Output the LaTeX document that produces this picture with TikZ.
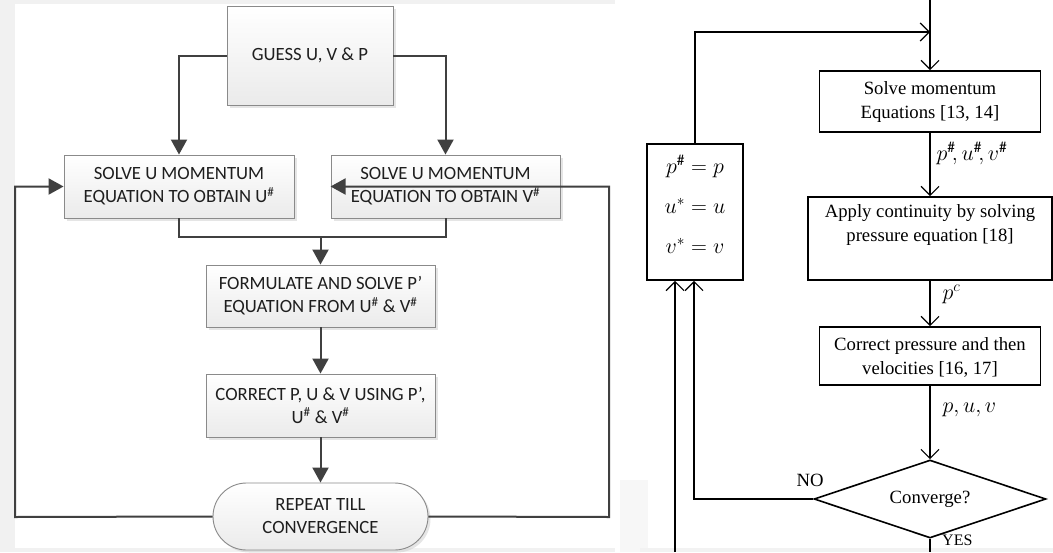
\documentclass[tikz,border=0pt]{standalone}
\usepackage{fix-cm}
\usepackage{fontspec}
\setmainfont{Carlito}
\newfontfamily\tnr{Liberation Serif}
\usetikzlibrary{arrows.meta,shapes.geometric,shapes.misc,shadows}
\definecolor{lcol}{HTML}{404040}
\definecolor{boxgray}{HTML}{8A8A8A}
\definecolor{txt}{HTML}{1E1E1E}
\definecolor{bggray}{HTML}{F1F1F1}
\newcommand\lefttxt{\fontsize{18.7}{23}\selectfont}
\newcommand\righttxt{\tnr\fontsize{18.7}{23.5}\selectfont}
\newcommand\mathtxt{\fontsize{22}{26}\selectfont}
\begin{document}
\begin{tikzpicture}[x=1pt,y=-1pt,
  lbox/.style={draw=boxgray, line width=0.9pt, top color=white, bottom color=black!8,
    drop shadow={shadow xshift=2.5pt, shadow yshift=-2.5pt, fill=black!20, opacity=0.5},
    align=center, font=\lefttxt, text=txt, inner sep=0pt},
  larr/.style={draw=lcol, line width=2pt, -{Triangle[length=15pt,width=16pt]}},
  lline/.style={draw=lcol, line width=2pt},
  rbox/.style={draw=black, line width=1.6pt, fill=white, inner sep=0pt},
  rtext/.style={font=\righttxt, align=center, text=black, inner sep=0pt},
  mtext/.style={font=\mathtxt, align=center, text=black, inner sep=0pt},
  rarr/.style={draw=black, line width=1.2pt, -{Straight Barb[length=9pt,width=18pt,line width=1.2pt]}},
  rline/.style={draw=black, line width=1.2pt}]
\useasboundingbox (0,0) rectangle (1053,552);
\fill[white] (0,0) rectangle (1053,552);
\fill[bggray] (0,0) rectangle (15,552);
\fill[bggray] (0,0) rectangle (615,4);
\fill[bggray] (0,548) rectangle (615,552);

% ---------------- left flowchart ----------------
\node[lbox, minimum width=166pt, minimum height=99pt] (guess) at (310,55.5) {GUESS U, V \& P};
\node[lbox, minimum width=230pt, minimum height=63pt] (solveu) at (179,186.5) {SOLVE U MOMENTUM\\EQUATION TO OBTAIN U\textsuperscript{\#}};
\node[lbox, minimum width=229pt, minimum height=63pt] (solvev) at (445.5,186.5) {SOLVE U MOMENTUM\\EQUATION TO OBTAIN V\textsuperscript{\#}};
\node[lbox, minimum width=229pt, minimum height=62pt] (form) at (320.5,296) {FORMULATE AND SOLVE P’\\EQUATION FROM U\textsuperscript{\#} \& V\textsuperscript{\#}};
\node[lbox, minimum width=229pt, minimum height=63pt] (corr) at (320.5,405.5) {CORRECT P, U \& V USING P’,\\U\textsuperscript{\#} \& V\textsuperscript{\#}};
\node[lbox, rounded rectangle, minimum width=215pt, minimum height=67pt] (rep) at (320.5,516.5) {REPEAT TILL\\CONVERGENCE};

\coordinate (merge) at (320.5,237);
\coordinate (lc) at (15,517);
\coordinate (rc) at (609,517);

\draw[larr] (guess.west) -| (solveu.north);
\draw[larr] (guess.east) -| (solvev.north);
\draw[lline] (solveu.south) |- (merge) -| (solvev.south);
\draw[larr] (merge) -- (form.north);
\draw[larr] (form.south) -- (corr.north);
\draw[larr] (corr.south) -- (rep.north);
\draw[larr] (rep.west) -- (lc) |- (solveu.west);
\draw[larr] (rep.east) -- (rc) |- (solvev.west);

% ---------------- right flowchart ----------------
\fill[black!3] (620,480) rectangle (648,552);
\fill[black!5] (640,548) rectangle (1053,552);
\node[rbox, minimum width=221pt, minimum height=61pt] (mom) at (930,101.5) {};
\node[rtext] (momt) at (930,102) {Solve momentum\\Equations [13, 14]};
\node[rbox, minimum width=244pt, minimum height=83pt] (apply) at (930,238.5) {};
\node[rtext] (applyt) at (930,225) {Apply continuity by solving\\pressure equation [18]};
\node[rbox, minimum width=221pt, minimum height=58pt] (cor2) at (930,356) {};
\node[rtext] (cor2t) at (930,357.5) {Correct pressure and then\\velocities [16, 17]};
\node[rbox, diamond, aspect=2.97, minimum width=232pt, minimum height=78pt] (dia) at (930,499) {};
\node[rtext] (diat) at (930,499) {Converge?};
\node[rbox, minimum width=96pt, minimum height=136pt] (eqbox) at (695,212) {};
\node[mtext] (eq1) at (695,166) {$p^{\#}=p$};
\node[mtext] (eq2) at (695,206) {$u^{*}=u$};
\node[mtext] (eq3) at (695,246) {$v^{*}=v$};

\coordinate (top) at (930,0);
\coordinate (join) at (930,32);
\coordinate (bot) at (930,552);
\coordinate (loopin) at (675,552);

\draw[rarr] (top) -- (mom.north);
\draw[rarr] (eqbox.north) |- (join);
\draw[rarr] (mom.south) -- node[mtext, right=6pt, pos=0.33] (l1) {$p^{\#}\!, u^{\#}\!, v^{\#}$} (apply.north);
\draw[rarr] (apply.south) -- node[mtext, right=12pt, pos=0.30] (l2) {$p^{c}$} (cor2.north);
\draw[rarr] (cor2.south) -- node[mtext, right=12pt, pos=0.33] (l3) {$p, u, v$} (dia.north);
\draw[rarr] (dia.west) -| ([xshift=-1pt]eqbox.south);
\draw[rarr] (loopin) -- ([xshift=-20pt]eqbox.south);
\draw[rline] (dia.south) -- (bot);
\node[rtext] (no) at (810,480) {NO};
\node[rtext, anchor=west, font=\tnr\fontsize{16}{18}\selectfont] (yes) at (942,540) {YES};
\end{tikzpicture}
\end{document}
